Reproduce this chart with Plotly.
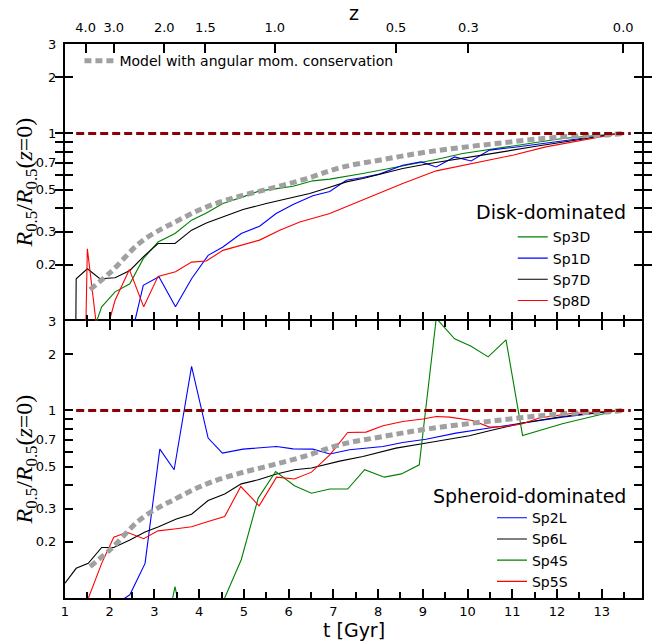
import math
import plotly.graph_objects as go

# ---- cosmic time [Gyr] vs. normalised half-mass radius R_0.5 / R_0.5(z=0) ----

# Disk-dominated galaxies
t_sp3d = [1.50, 1.82, 2.12, 2.45, 2.75, 3.08, 3.46, 3.83, 4.16, 4.53, 4.98, 5.35, 5.73, 6.10,
          6.54, 6.92, 7.66, 8.40, 9.30, 9.89, 10.49, 11.38, 12.12, 13.39]
r_sp3d = [0.072, 0.119, 0.143, 0.158, 0.215, 0.264, 0.293, 0.345, 0.377, 0.423, 0.459, 0.494,
          0.508, 0.523, 0.559, 0.571, 0.612, 0.663, 0.726, 0.782, 0.822, 0.884, 0.94, 1.0]

t_sp1d = [2.45, 2.75, 3.10, 3.47, 3.83, 4.20, 4.53, 4.94, 5.35, 5.72, 6.10, 6.54, 6.92, 7.29,
          7.66, 8.03, 8.55, 8.96, 9.30, 9.71, 10.08, 10.49, 11.01, 11.53, 12.50, 13.39]
r_sp1d = [0.077, 0.155, 0.172, 0.119, 0.168, 0.224, 0.248, 0.293, 0.320, 0.374, 0.418, 0.465,
          0.490, 0.563, 0.582, 0.607, 0.677, 0.705, 0.663, 0.750, 0.714, 0.815, 0.842, 0.874,
          0.94, 1.0]

t_sp7d = [1.22, 1.25, 1.50, 1.78, 2.12, 2.45, 2.75, 3.08, 3.46, 3.83, 4.16, 4.53, 4.98, 5.50,
          5.95, 6.47, 6.92, 7.29, 7.66, 8.55, 9.15, 10.04, 10.64, 11.53, 12.50, 13.39]
r_sp7d = [0.02, 0.168, 0.190, 0.168, 0.170, 0.186, 0.220, 0.259, 0.259, 0.305, 0.333, 0.359,
          0.393, 0.423, 0.450, 0.479, 0.517, 0.552, 0.575, 0.651, 0.692, 0.745, 0.788, 0.855,
          0.929, 1.0]

t_sp8d = [1.25, 1.50, 1.78, 2.12, 2.44, 2.76, 3.08, 3.47, 3.83, 4.16, 4.53, 4.98, 5.35, 5.80,
          6.25, 6.92, 7.66, 8.55, 9.30, 10.04, 11.01, 11.75, 12.50, 13.39]
r_sp8d = [0.0002, 0.243, 0.066, 0.129, 0.188, 0.119, 0.173, 0.183, 0.206, 0.209, 0.238, 0.254,
          0.270, 0.305, 0.337, 0.374, 0.441, 0.541, 0.632, 0.686, 0.766, 0.848, 0.913, 1.0]

# Spheroid-dominated galaxies
t_sp2l = [2.08, 2.45, 2.79, 3.12, 3.44, 3.83, 4.20, 4.52, 4.98, 5.50, 5.73, 6.10, 6.54, 6.92,
          7.36, 8.11, 8.55, 9.07, 9.74, 10.49, 11.23, 12.12, 13.35]
r_sp2l = [0.091, 0.104, 0.153, 0.622, 0.483, 1.72, 0.713, 0.593, 0.622, 0.635, 0.643, 0.624,
          0.622, 0.586, 0.617, 0.643, 0.675, 0.703, 0.757, 0.806, 0.857, 0.922, 1.0]

t_sp6l = [1.00, 1.25, 1.52, 1.82, 2.09, 2.45, 2.79, 3.08, 3.49, 3.83, 4.20, 4.57, 4.94, 5.32,
          5.73, 6.13, 6.51, 6.92, 7.14, 7.66, 8.40, 9.15, 10.04, 10.49, 11.23, 12.12, 13.35]
r_sp6l = [0.120, 0.144, 0.153, 0.186, 0.186, 0.204, 0.225, 0.239, 0.264, 0.280, 0.331, 0.359,
          0.406, 0.427, 0.458, 0.483, 0.493, 0.524, 0.537, 0.568, 0.630, 0.675, 0.733, 0.779,
          0.857, 0.929, 1.0]

t_sp4s = [3.08, 3.46, 3.83, 4.20, 4.57, 4.94, 5.32, 5.71, 6.13, 6.51, 6.92, 7.32, 7.70, 8.14,
          8.52, 8.92, 9.30, 9.71, 10.08, 10.46, 10.86, 11.23, 12.12, 13.35]
r_sp4s = [0.042, 0.115, 0.042, 0.05, 0.10, 0.16, 0.341, 0.473, 0.397, 0.362, 0.381, 0.381,
          0.483, 0.441, 0.459, 0.513, 3.1, 2.41, 2.20, 1.93, 2.38, 0.736, 0.85, 1.0]

t_sp5s = [1.45, 1.82, 2.09, 2.39, 2.76, 3.08, 3.49, 3.83, 4.20, 4.57, 4.93, 5.34, 5.73, 6.13,
          6.51, 6.92, 7.32, 7.73, 8.11, 8.55, 9.00, 9.30, 9.60, 10.11, 10.49, 10.86, 11.23,
          11.60, 12.27, 13.35]
r_sp5s = [0.09, 0.153, 0.211, 0.224, 0.207, 0.228, 0.234, 0.240, 0.256, 0.272, 0.393, 0.310,
          0.441, 0.431, 0.469, 0.58, 0.763, 0.767, 0.829, 0.874, 0.90, 0.929, 0.922, 0.884,
          0.815, 0.822, 0.849, 0.911, 0.96, 1.0]

# Model with angular momentum conservation
t_model = [1.56, 2.04, 2.67, 3.16, 3.42, 3.86, 4.31, 4.91, 5.65, 6.39, 7.14, 8.11, 9.15,
           10.64, 12.12, 13.17, 13.45]
r_model = [0.147, 0.184, 0.261, 0.310, 0.333, 0.377, 0.418, 0.463, 0.513, 0.573, 0.656, 0.726,
           0.80, 0.884, 0.96, 0.985, 1.0]

# Reference level R = R(z=0)
t_unity = [1.25, 13.65]
r_unity = [1.0, 1.0]

# Redshift ticks on the top axis and the cosmic time they correspond to
z_labels = ["4.0", "3.0", "2.0", "1.5", "1.0", "0.5", "0.3", "0.0"]
t_of_z = [1.46, 2.09, 3.22, 4.14, 5.69, 8.40, 10.02, 13.48]

# Axis ticks
t_major = list(range(1, 14))
t_minor = [i + 0.5 for i in range(1, 14)]
r_ticks = [0.2, 0.3, 0.4, 0.5, 0.6, 0.7, 0.8, 0.9, 1, 2, 3]
r_ticktext = ["0.2", "0.3", "", "0.5", "", "0.7", "", "", "1", "2", "3"]

GREEN, BLUE, BLACK, RED = "#008000", "#0000ff", "#000000", "#ff0000"
GRAY, DARKRED = "#a0a0a0", "#8b0000"
SANS = "DejaVu Sans"

fig = go.Figure()

def add_curve(t, r, name, color, yax, xax, legend, showlegend=True):
    fig.add_trace(go.Scatter(
        x=t, y=r, name=name, mode="lines", xaxis=xax, yaxis=yax,
        line=dict(color=color, width=1.1), legend=legend, showlegend=showlegend,
        hoverinfo="skip"))

# top panel: disk-dominated
add_curve(t_sp3d, r_sp3d, "Sp3D", GREEN, "y2", "x2", "legend2")
add_curve(t_sp1d, r_sp1d, "Sp1D", BLUE, "y2", "x2", "legend2")
add_curve(t_sp7d, r_sp7d, "Sp7D", BLACK, "y2", "x2", "legend2")
add_curve(t_sp8d, r_sp8d, "Sp8D", RED, "y2", "x2", "legend2")

# bottom panel: spheroid-dominated
add_curve(t_sp2l, r_sp2l, "Sp2L", BLUE, "y", "x", "legend3")
add_curve(t_sp6l, r_sp6l, "Sp6L", BLACK, "y", "x", "legend3")
add_curve(t_sp4s, r_sp4s, "Sp4S", GREEN, "y", "x", "legend3")
add_curve(t_sp5s, r_sp5s, "Sp5S", RED, "y", "x", "legend3")

for xax, yax, show in (("x2", "y2", True), ("x", "y", False)):
    fig.add_trace(go.Scatter(
        x=t_model, y=r_model, name="Model with angular mom. conservation", mode="lines",
        xaxis=xax, yaxis=yax, line=dict(color=GRAY, width=5, dash="7px,4px", shape="spline"),
        legend="legend", showlegend=show, hoverinfo="skip"))
    fig.add_trace(go.Scatter(
        x=t_unity, y=r_unity, mode="lines", xaxis=xax, yaxis=yax, showlegend=False,
        line=dict(color=DARKRED, width=3, dash="8px,4px"), hoverinfo="skip"))

# carrier for the redshift axis
fig.add_trace(go.Scatter(x=t_of_z, y=[1] * len(t_of_z), xaxis="x3", yaxis="y2", mode="markers",
                         marker=dict(opacity=0), showlegend=False, hoverinfo="skip"))

xr = [1, 13.9]
yr = [-1, math.log10(3)]
common_x = dict(range=xr, tickmode="array", tickvals=t_major, ticks="inside", ticklen=9,
                tickwidth=2, tickcolor="black", linewidth=2, linecolor="black",
                showgrid=False, zeroline=False, automargin=False,
                minor=dict(tickmode="array", tickvals=t_minor, ticks="inside", ticklen=6,
                           tickwidth=2, tickcolor="black", showgrid=False),
                tickfont=dict(family=SANS, size=13, color="black"))
common_y = dict(type="log", range=yr, tickmode="array", tickvals=r_ticks, ticktext=r_ticktext,
                ticks="inside", ticklen=8, tickwidth=2, tickcolor="black", showline=True,
                linewidth=2, linecolor="black", mirror="allticks", showgrid=False,
                zeroline=False, automargin=False,
                tickfont=dict(family=SANS, size=13, color="black"), ticklabelstandoff=4)

ytitle = "<i>R</i><sub>0.5</sub>/<i>R</i><sub>0.5</sub>(<i>z</i>=0)"

def label(text, x, y, size=19, family=SANS, angle=0, xshift=0, xanchor="center"):
    return dict(text=text, x=x, y=y, xref="paper", yref="paper", xshift=xshift,
                xanchor=xanchor, yanchor="middle", textangle=angle, showarrow=False,
                font=dict(family=family, size=size, color="black"))

fig.update_layout(
    width=655, height=642,
    margin=dict(l=65, r=13, t=44, b=44),
    paper_bgcolor="white", plot_bgcolor="white",
    font=dict(family=SANS, color="black"),
    xaxis=dict(**common_x, anchor="y", showline=True, mirror="allticks"),
    xaxis2=dict(**common_x, anchor="y2", matches="x", showline=False, showticklabels=False),
    xaxis3=dict(range=xr, overlaying="x2", side="top", anchor="y2", tickmode="array",
                tickvals=t_of_z, ticktext=z_labels, ticks="inside", ticklen=9, tickwidth=2,
                tickcolor="black", showline=True, linewidth=2, linecolor="black",
                showgrid=False, zeroline=False,
                automargin=False, tickfont=dict(family=SANS, size=13, color="black"),
                ticklabelstandoff=5),
    yaxis=dict(**common_y, domain=[0, 0.5], anchor="x"),
    yaxis2=dict(**common_y, domain=[0.5, 1], anchor="x2"),
    legend=dict(x=0.025, y=0.998, xanchor="left", yanchor="top", bgcolor="rgba(0,0,0,0)",
                font=dict(family=SANS, size=14), itemwidth=30),
    legend2=dict(x=0.776, y=0.680, xanchor="left", yanchor="top", bgcolor="rgba(0,0,0,0)",
                 font=dict(family=SANS, size=14), itemwidth=30),
    legend3=dict(x=0.740, y=0.173, xanchor="left", yanchor="top", bgcolor="rgba(0,0,0,0)",
                 font=dict(family=SANS, size=14), itemwidth=30),
    annotations=[
        label("Disk-dominated", 0.9757, 0.6968, xanchor="right"),
        label("Spheroid-dominated", 0.9757, 0.184, xanchor="right"),
        label("t [Gyr]", 0.5, -0.058),
        label("z", 0.5, 1.056),
        label(ytitle, 0, 0.75, size=24, family="Liberation Serif", angle=-90, xshift=-40),
        label(ytitle, 0, 0.25, size=24, family="Liberation Serif", angle=-90, xshift=-40),
    ],
)

fig.write_html("out.html")
